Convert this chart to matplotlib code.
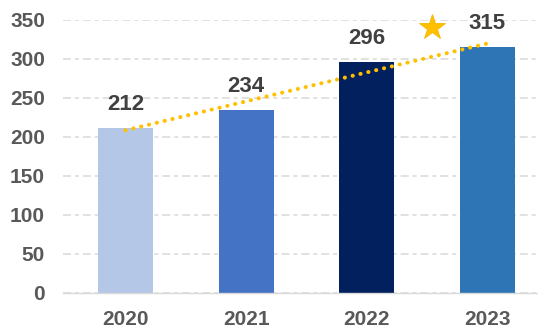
import matplotlib.pyplot as plt
import numpy as np

plt.rcParams['font.family'] = ['Liberation Sans', 'DejaVu Sans']

years = ['2020', '2021', '2022', '2023']
values = [212, 234, 296, 315]
bar_colors = ['#B4C7E7', '#4472C4', '#03205E', '#2E75B6']
y_ticks = [0, 50, 100, 150, 200, 250, 300, 350]

fig = plt.figure(figsize=(5.38, 3.32), dpi=100)
ax = fig.add_axes([0.117, 0.1175, 0.883, 0.8223])

x = np.arange(len(years))
ax.bar(x, values, width=0.456, color=bar_colors, zorder=2)

# value labels above bars
for xi, v in zip(x, values):
    ax.annotate(str(v), (xi, v), xytext=(0, 17), textcoords='offset points',
                ha='center', va='center', fontsize=16, fontweight='bold',
                color='#404040', zorder=4)

# linear trend line through the yearly values
slope, intercept = np.polyfit(x, values, 1)
ax.plot(x[[0, -1]], intercept + slope * x[[0, -1]], color='#FFC000', lw=2.9,
        linestyle=(0, (0.05, 1.95)), dash_capstyle='round', zorder=3)

# star marker above the trend
ax.plot([2.54], [341], marker='*', markersize=19, color='#FFC000',
        markeredgecolor='#F5B800', markeredgewidth=0.6, clip_on=False, zorder=4)

ax.set_xlim(-0.518, 3.42)
ax.set_ylim(0, 350)
ax.set_xticks(x)
ax.set_xticklabels(years)
ax.set_yticks(y_ticks)

for s in ['top', 'right', 'left']:
    ax.spines[s].set_visible(False)
ax.spines['bottom'].set_color('#D9D9D9')
ax.spines['bottom'].set_linewidth(1.0)

ax.tick_params(axis='both', length=0, labelsize=15, labelcolor='#595959')
ax.tick_params(axis='y', pad=13)
ax.tick_params(axis='x', pad=12)
for lbl in ax.get_xticklabels() + ax.get_yticklabels():
    lbl.set_fontweight('bold')

ax.yaxis.grid(True, color='#D9D9D9', lw=1.1, linestyle=(0, (5.2, 2.6, 2.6, 2.6)), zorder=0)
ax.set_axisbelow(True)

plt.savefig('out.png', dpi=100)
